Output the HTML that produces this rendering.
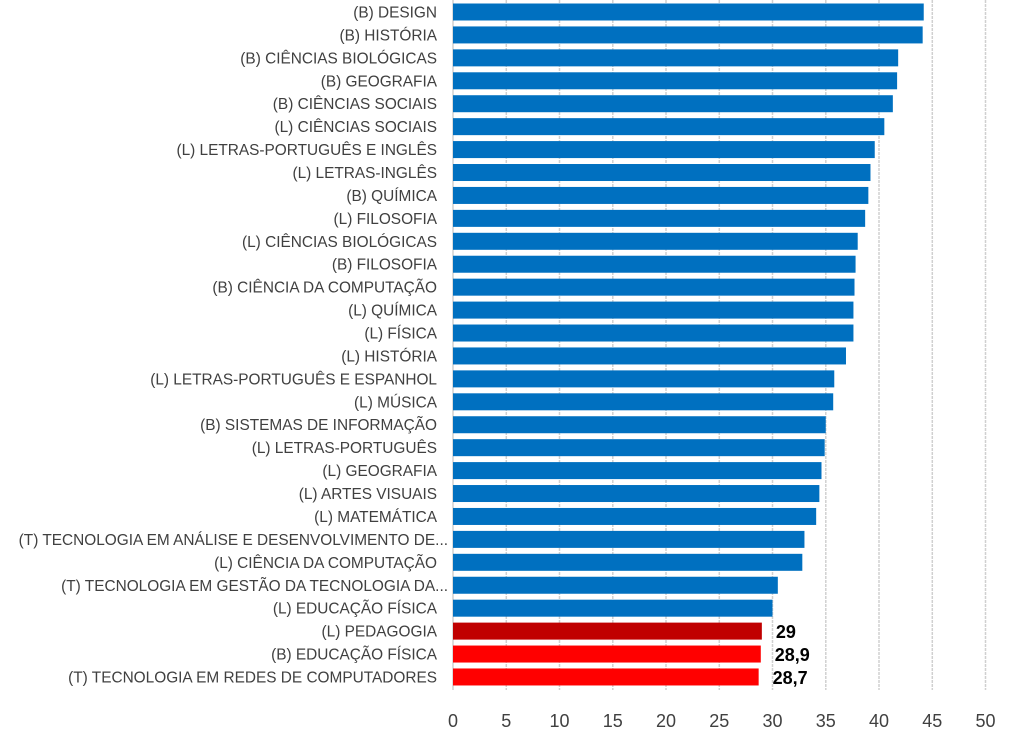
<!DOCTYPE html><html><head><meta charset="utf-8"><style>body{margin:0;background:#fff}svg{display:block}</style></head><body>
<svg width="1024" height="732" xmlns="http://www.w3.org/2000/svg" font-family="Liberation Sans, sans-serif">
<g stroke="#d0d0d0" stroke-width="1.5" stroke-dasharray="3,1">
<line x1="506.3" y1="0" x2="506.3" y2="690"/><line x1="559.5" y1="0" x2="559.5" y2="690"/><line x1="612.8" y1="0" x2="612.8" y2="690"/><line x1="666" y1="0" x2="666" y2="690"/><line x1="719.3" y1="0" x2="719.3" y2="690"/><line x1="772.5" y1="0" x2="772.5" y2="690"/><line x1="825.8" y1="0" x2="825.8" y2="690"/><line x1="879" y1="0" x2="879" y2="690"/><line x1="932.3" y1="0" x2="932.3" y2="690"/><line x1="985.5" y1="0" x2="985.5" y2="690"/>
</g>
<line x1="453" y1="0" x2="453" y2="690" stroke="#d0d0d0" stroke-width="1.5"/>
<g id="bars"></g>
<g font-size="18" fill="#404040" text-anchor="middle">
<text x="453" y="727">0</text><text x="506.3" y="727">5</text><text x="559.5" y="727">10</text><text x="612.8" y="727">15</text><text x="666" y="727">20</text><text x="719.3" y="727">25</text><text x="772.5" y="727">30</text><text x="825.8" y="727">35</text><text x="879" y="727">40</text><text x="932.3" y="727">45</text><text x="985.5" y="727">50</text>
</g>
</svg>
<script>
const d=[["(B) DESIGN",44.2],["(B) HISTÓRIA",44.1],["(B) CIÊNCIAS BIOLÓGICAS",41.8],["(B) GEOGRAFIA",41.7],["(B) CIÊNCIAS SOCIAIS",41.3],["(L) CIÊNCIAS SOCIAIS",40.5],["(L) LETRAS-PORTUGUÊS E INGLÊS",39.6],["(L) LETRAS-INGLÊS",39.2],["(B) QUÍMICA",39.0],["(L) FILOSOFIA",38.7],["(L) CIÊNCIAS BIOLÓGICAS",38.0],["(B) FILOSOFIA",37.8],["(B) CIÊNCIA DA COMPUTAÇÃO",37.7],["(L) QUÍMICA",37.6],["(L) FÍSICA",37.6],["(L) HISTÓRIA",36.9],["(L) LETRAS-PORTUGUÊS E ESPANHOL",35.8],["(L) MÚSICA",35.7],["(B) SISTEMAS DE INFORMAÇÃO",35.0],["(L) LETRAS-PORTUGUÊS",34.9],["(L) GEOGRAFIA",34.6],["(L) ARTES VISUAIS",34.4],["(L) MATEMÁTICA",34.1],["(T) TECNOLOGIA EM ANÁLISE E DESENVOLVIMENTO DE...",33.0],["(L) CIÊNCIA DA COMPUTAÇÃO",32.8],["(T) TECNOLOGIA EM GESTÃO DA TECNOLOGIA DA...",30.5],["(L) EDUCAÇÃO FÍSICA",30.0],["(L) PEDAGOGIA",29],["(B) EDUCAÇÃO FÍSICA",28.9],["(T) TECNOLOGIA EM REDES DE COMPUTADORES",28.7]];
const lab=["29","28,9","28,7"];
let h="";
d.forEach((r,i)=>{const cy=12+i*22.93;const w=r[1]*10.65;
const c=i<27?"#0070c0":(i==27?"#c00000":"#ff0000");
const tr=r[0].endsWith("...");
h+=`<rect x="453" y="${cy-8.5}" width="${w}" height="17" fill="${c}"/>`;
h+=`<text x="${tr?448:437}" y="${cy+5.5}" font-size="15.4" fill="#404040" text-anchor="end">${r[0]}</text>`;
if(i>=27)h+=`<text x="${453+w+14}" y="${cy+7}" font-size="18" font-weight="bold" fill="#000">${lab[i-27]}</text>`;});
document.getElementById("bars").innerHTML=h;
</script>
</body></html>
